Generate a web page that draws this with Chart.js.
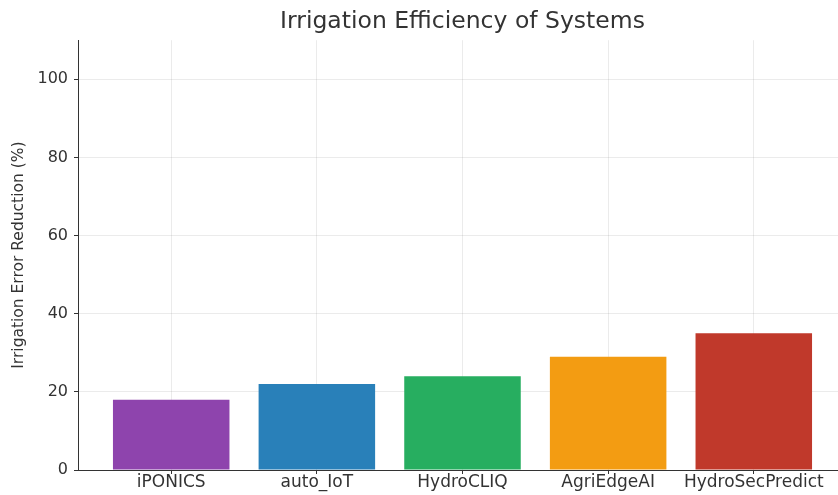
<!DOCTYPE html>
<html>
<head>
<meta charset="utf-8">
<script src="https://cdn.jsdelivr.net/npm/chart.js@4"></script>
<style>
  html, body { margin: 0; padding: 0; background: #fff; overflow: hidden; }
  #wrap { width: 850px; height: 495px; position: relative; }
</style>
</head>
<body>
<div id="wrap"><canvas id="c"></canvas></div>
<script>
// Irrigation error reduction per system
const systems = ['iPONICS', 'auto_IoT', 'HydroCLIQ', 'AgriEdgeAI', 'HydroSecPredict'];
const reduction = [18, 22, 24, 29, 35];
const barColors = ['#8e44ad', '#2980b9', '#27ae60', '#f39c12', '#c0392b'];
const yTicks = [0, 20, 40, 60, 80, 100];

const FONT = "'DejaVu Sans', sans-serif";
const INK = '#333333';
const GRID = 'rgba(120, 120, 120, 0.15)';

new Chart(document.getElementById('c'), {
  type: 'bar',
  data: {
    datasets: [{
      data: systems.map((s, i) => ({ x: i, y: reduction[i] })),
      backgroundColor: barColors,
      borderWidth: 0,
      categoryPercentage: 1.0,
      barPercentage: 0.8
    }]
  },
  options: {
    responsive: true,
    maintainAspectRatio: false,
    animation: false,
    layout: { padding: { left: 0, right: 3, top: 0, bottom: 0 } },
    plugins: {
      legend: { display: false },
      tooltip: { enabled: false },
      title: {
        display: true,
        text: 'Irrigation Efficiency of Systems',
        fullSize: false,
        color: INK,
        font: { family: FONT, size: 23.5, weight: 'normal' },
        padding: { top: 8, bottom: 4 }
      }
    },
    scales: {
      x: {
        type: 'linear',
        offset: false,
        z: 1,
        min: -0.64,
        max: 4.64,
        afterBuildTicks: (scale) => {
          scale.ticks = systems.map((s, i) => ({ value: i }));
        },
        afterFit: (scale) => { scale.height = 25; },
        ticks: {
          autoSkip: false,
          maxRotation: 0,
          padding: -2,
          color: INK,
          font: { family: FONT, size: 17 },
          callback: (v) => systems[v]
        },
        grid: {
          offset: false,
          color: GRID,
          lineWidth: 1,
          drawTicks: true,
          tickLength: 4,
          tickColor: INK
        },
        border: { display: true, color: INK, width: 1 }
      },
      y: {
        min: 0,
        max: 110,
        z: 1,
        afterBuildTicks: (scale) => {
          scale.ticks = yTicks.map(v => ({ value: v }));
        },
        afterFit: (scale) => { scale.width = 78; },
        ticks: {
          padding: 6,
          color: INK,
          font: { family: FONT, size: 16 }
        },
        grid: {
          color: GRID,
          lineWidth: 1,
          drawTicks: true,
          tickLength: 4,
          tickColor: INK
        },
        border: { display: true, color: INK, width: 1 },
        title: {
          display: true,
          text: 'Irrigation Error Reduction (%)',
          color: INK,
          font: { family: FONT, size: 15.5 },
          padding: { top: 10, bottom: 4 }
        }
      }
    }
  }
});
</script>
</body>
</html>
